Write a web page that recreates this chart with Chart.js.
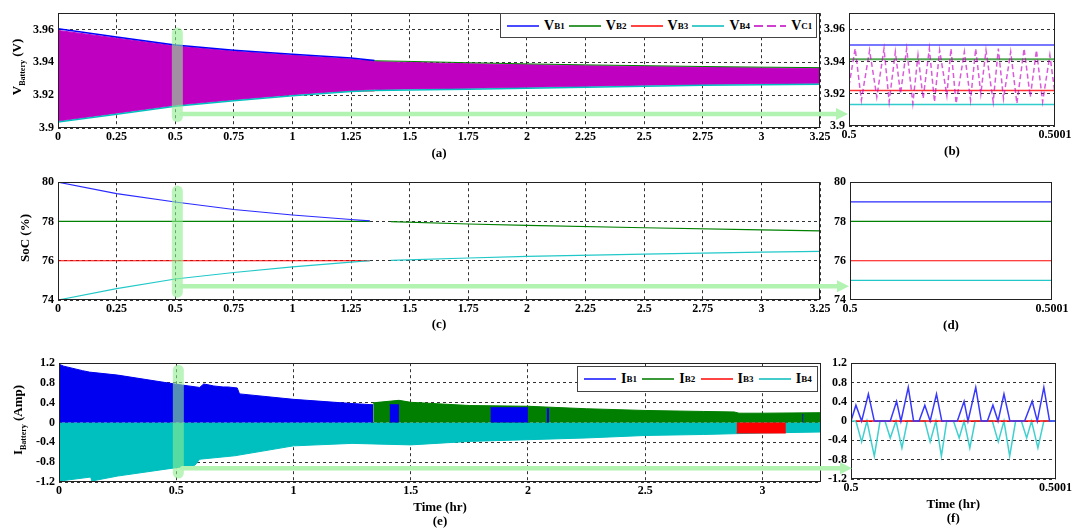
<!DOCTYPE html>
<html lang="en">
<head>
<meta charset="UTF-8">
<title>Battery voltage, SoC and current</title>
<style>
    body {
        margin: 0;
        width: 1076px;
        height: 531px;
        position: relative;
        overflow: hidden;
        background: #fff;
        font-family: "Liberation Serif", "Times New Roman", serif;
    }
    canvas { position: absolute; }
    .left { z-index: 2; }
    .right { z-index: 1; }
    .ytitle {
        position: absolute;
        z-index: 5;
        transform: translate(-50%, -50%) rotate(-90deg);
        white-space: nowrap;
        font-weight: bold;
        font-size: 13px;
    }
    .ytitle sub { font-size: 8px; }
    .legend {
        position: absolute;
        z-index: 5;
        box-sizing: border-box;
        background: #fff;
        border: 1px solid #444;
        display: flex;
        align-items: center;
        padding-left: 6px;
        font-weight: bold;
        font-size: 14px;
    }
    .legend .item { display: flex; align-items: center; }
    .legend .swatch { display: inline-block; width: 32px; height: 2px; margin-right: 5px; }
    .legend sub { font-size: 9px; }
</style>
</head>
<body>
<canvas id="chartB" class="right"></canvas>
<canvas id="chartD" class="right"></canvas>
<canvas id="chartF" class="right"></canvas>
<canvas id="chartA" class="left"></canvas>
<canvas id="chartC" class="left"></canvas>
<canvas id="chartE" class="left"></canvas>

<div class="ytitle" style="left:18px; top:67px;">V<sub>Battery</sub> (V)</div>
<div class="ytitle" style="left:25px; top:238px;">SoC (%)</div>
<div class="ytitle" style="left:19px; top:420px;">I<sub>Battery</sub> (Amp)</div>

<div class="legend" style="left:500px; top:13px; width:317px; height:25px;">
    <div class="item" style="width:62px;"><span class="swatch" style="background:#4a4aff;"></span>V<sub>B1</sub></div>
    <div class="item" style="width:62px;"><span class="swatch" style="background:#3a9a3a;"></span>V<sub>B2</sub></div>
    <div class="item" style="width:62px;"><span class="swatch" style="background:#ff4444;"></span>V<sub>B3</sub></div>
    <div class="item" style="width:62px;"><span class="swatch" style="background:#44cccc;"></span>V<sub>B4</sub></div>
    <div class="item" style="width:62px;"><span class="swatch" style="background:repeating-linear-gradient(90deg, #d040d0 0 9px, transparent 9px 13px);"></span>V<sub>C1</sub></div>
</div>
<div class="legend" style="left:577px; top:366px; width:241px; height:26px;">
    <div class="item" style="width:59px;"><span class="swatch" style="background:#4a4aff;"></span>I<sub>B1</sub></div>
    <div class="item" style="width:59px;"><span class="swatch" style="background:#3a9a3a;"></span>I<sub>B2</sub></div>
    <div class="item" style="width:59px;"><span class="swatch" style="background:#ff4444;"></span>I<sub>B3</sub></div>
    <div class="item" style="width:59px;"><span class="swatch" style="background:#44cccc;"></span>I<sub>B4</sub></div>
</div>

<script src="https://cdn.jsdelivr.net/npm/chart.js"></script>
<script>
    // ---- tick labels ----
    const hourTicks = [0, 0.25, 0.5, 0.75, 1, 1.25, 1.5, 1.75, 2, 2.25, 2.5, 2.75, 3, 3.25];
    const hourTicksE = [0, 0.5, 1, 1.5, 2, 2.5, 3];
    const zoomTicks = [0, 100];               // zoom windows, in 1e-6 hr from 0.5 hr
    const zoomLabels = ['0.5', '0.5001'];
    const voltTicks = [3.9, 3.92, 3.94, 3.96];
    const socTicks = [74, 76, 78, 80];
    const ampTicks = [-1.2, -0.8, -0.4, 0, 0.4, 0.8, 1.2];

    // ---- (a) battery voltage, whole run ----
    const bandTime = [0, 0.25, 0.5, 0.75, 1, 1.25, 1.35, 1.5, 1.75, 2, 2.25, 2.5, 2.75, 3, 3.25];
    const vc1Top = [3.9595, 3.9548, 3.9500, 3.9468, 3.9443, 3.9420, 3.9405, 3.9400, 3.9392, 3.9386, 3.9380, 3.9375, 3.9370, 3.9366, 3.9363];
    const vc1Bottom = [3.9042, 3.9090, 3.9138, 3.9172, 3.9203, 3.9228, 3.9234, 3.9238, 3.9242, 3.9248, 3.9254, 3.9261, 3.9266, 3.9270, 3.9273];
    const vb4Volt = [3.9036, 3.9084, 3.9132, 3.9166, 3.9197, 3.9222, 3.9228, 3.9232, 3.9236, 3.9242, 3.9248, 3.9255, 3.9260, 3.9264, 3.9267];
    const vb1Time = [0, 0.25, 0.5, 0.75, 1, 1.25, 1.35];
    const vb1Volt = [3.9605, 3.9555, 3.9506, 3.9474, 3.9449, 3.9427, 3.9411];
    const vb2EarlyTime = [0, 1.35];
    const vb2EarlyVolt = [3.9415, 3.9412];
    const vb2LateTime = [1.35, 1.5, 1.75, 2, 2.25, 2.5, 2.75, 3, 3.25];
    const vb2LateVolt = [3.9410, 3.9406, 3.9398, 3.9391, 3.9385, 3.9380, 3.9375, 3.9371, 3.9368];
    const vb3Time = [0, 1.35];
    const vb3Volt = [3.9220, 3.9226];

    // ---- (b) zoom of (a) ----
    const vbZoomTime = [0, 100];
    const vb1Zoom = [3.9502, 3.9502];
    const vb2Zoom = [3.9415, 3.9415];
    const vb3Zoom = [3.9221, 3.9221];
    const vb4Zoom = [3.9134, 3.9134];
    const vc1ZoomTime = [0, 3, 6, 10, 13.5, 17, 19.5, 22.5, 25, 28, 31, 33.5, 36, 39, 41.5, 44, 47.5, 49.5,
        52, 56, 59, 61.5, 64, 66.5, 70, 72.5, 75, 78.5, 81.5, 85, 88, 91, 94, 97.5, 100];
    const vc1ZoomVolt = [3.925, 3.948, 3.916, 3.947, 3.918, 3.948, 3.915, 3.946, 3.920, 3.948, 3.914, 3.944,
        3.917, 3.948, 3.915, 3.947, 3.919, 3.948, 3.914, 3.946, 3.916, 3.948, 3.920, 3.947, 3.915, 3.948,
        3.917, 3.946, 3.914, 3.948, 3.918, 3.947, 3.915, 3.944, 3.920];

    // ---- (c) state of charge ----
    const socEarlyTime = [0, 0.25, 0.5, 0.75, 1, 1.25, 1.33];
    const soc1Early = [80, 79.42, 78.99, 78.61, 78.33, 78.10, 78.03];
    const soc4Early = [74, 74.58, 75.07, 75.40, 75.69, 75.93, 76.00];
    const socFlatTime = [0, 1.33];
    const soc2Flat = [78, 78];
    const soc3Flat = [76, 76];
    const socLateTime = [1.42, 1.75, 2, 2.5, 3, 3.25];
    const socUpperLate = [77.99, 77.87, 77.80, 77.68, 77.57, 77.52];
    const socLowerLate = [76.02, 76.14, 76.22, 76.34, 76.44, 76.48];

    // ---- (d) zoom of (c) ----
    const socZoomTime = [0, 100];
    const soc1Zoom = [79, 79];
    const soc2Zoom = [78, 78];
    const soc3Zoom = [76, 76];
    const soc4Zoom = [75, 75];

    // ---- (e) battery current envelopes ----
    const ib1Time = [0, 0.02, 0.1, 0.13, 0.25, 0.5, 0.6, 0.617, 0.64, 0.66, 0.7, 0.72, 0.76, 0.77, 1, 1.25, 1.34];
    const ib1Amp = [1.18, 1.14, 1.05, 1.02, 0.96, 0.775, 0.71, 0.78, 0.76, 0.74, 0.72, 0.72, 0.70, 0.58, 0.47, 0.385, 0.36];
    const ib1SegTime = [1.41, 1.45, 1.451, 1.84, 2.0, 2.001, 2.08, 2.09, 2.091, 3.17, 3.175];
    const ib1SegAmp = [0.36, 0.36, null, 0.30, 0.30, null, 0.28, 0.28, null, 0.16, 0.16];
    const ib2Time = [1.34, 1.45, 1.5, 1.75, 2, 2.25, 2.5, 2.75, 2.88, 2.9, 3, 3.25];
    const ib2Amp = [0.40, 0.45, 0.41, 0.345, 0.33, 0.28, 0.245, 0.225, 0.215, 0.19, 0.19, 0.20];
    const ib3Time = [2.89, 3.1];
    const ib3Amp = [-0.21, -0.21];
    const ib4Time = [0, 0.02, 0.135, 0.14, 0.25, 0.5, 0.58, 0.6, 0.75, 1, 1.25, 1.5, 1.75, 2, 2.25, 2.5, 2.75, 3, 3.25];
    const ib4Amp = [-1.21, -1.17, -1.10, -1.18, -1.08, -0.91, -0.86, -0.74, -0.67, -0.47, -0.42, -0.45, -0.38, -0.345, -0.31, -0.26, -0.24, -0.21, -0.19];

    // ---- (f) zoom of (e) ----
    const ib1ZoomTime = [0, 2.4, 5.2, 8.5, 11.4, 19.2, 22.3, 24.4, 28.0, 30.6, 33.3, 36.1, 38.7, 41.8, 44.4,
        52.0, 55.3, 57.2, 61.0, 63.7, 66.7, 69.4, 71.9, 74.8, 77.7, 84.9, 88.6, 91.1, 94.3, 97.1, 100];
    const ib1ZoomAmp = [0, 0.33, 0, 0.56, 0, 0, 0.41, 0, 0.70, 0, 0, 0.33, 0, 0.56, 0,
        0, 0.41, 0, 0.70, 0, 0, 0.33, 0, 0.56, 0, 0, 0.41, 0, 0.70, 0, 0];
    const ib4ZoomTime = [0, 2.4, 5.2, 7.8, 11.4, 14.2, 16.6, 19.2, 22.0, 24.9, 27.6, 36.1, 38.7, 41.5, 44.2, 46.8,
        50.1, 52.9, 55.3, 58.1, 60.7, 69.1, 72.0, 74.8, 77.6, 80.5, 83.3, 85.9, 88.3, 91.4, 94.3, 100];
    const ib4ZoomAmp = [0, 0, -0.43, 0, -0.725, 0, 0, -0.35, 0, -0.556, 0, 0, -0.43, 0, -0.725, 0,
        0, -0.35, 0, -0.556, 0, 0, -0.43, 0, -0.725, 0, 0, -0.35, 0, -0.556, 0, 0];
    const ib3ZoomTime = [2.4, 97.1];
    const ib3ZoomAmp = [0, 0];

    // ---------------------------------------------------------------
    const FONT = {family: '"Liberation Serif", "Times New Roman", serif', weight: 'bold', size: 12};
    const TITLE_FONT = {family: FONT.family, weight: 'bold', size: 13, lineHeight: 1.1};

    function pts(xs, ys) {
        return xs.map((x, i) => ({x: x, y: ys[i]}));
    }

    function line(xs, ys, color, width, extra) {
        return Object.assign({data: pts(xs, ys), borderColor: color, backgroundColor: color,
            borderWidth: width, fill: false}, extra || {});
    }

    // frame around the plot area, plus the green zoom marker/arrow
    const panelDeco = {
        id: 'panelDeco',
        afterDraw(chart, args, opts) {
            const {ctx, chartArea: a, scales} = chart;
            ctx.save();
            ctx.strokeStyle = '#222';
            ctx.lineWidth = 1;
            ctx.strokeRect(Math.round(a.left) + 0.5, Math.round(a.top) + 0.5,
                Math.round(a.right - a.left) - 1, Math.round(a.bottom - a.top) - 1);
            const m = opts.marker;
            if (m) {
                const x = scales.x.getPixelForValue(m.x);
                const yTop = scales.y.getPixelForValue(m.top);
                const yBot = scales.y.getPixelForValue(m.bottom);
                const yLev = scales.y.getPixelForValue(m.level);
                const tip = a.right + m.reach;
                ctx.lineCap = 'round';
                ctx.strokeStyle = 'rgba(144, 238, 144, 0.6)';
                ctx.lineWidth = 11;
                ctx.beginPath();
                ctx.moveTo(x, yTop);
                ctx.lineTo(x, yBot);
                ctx.stroke();
                ctx.strokeStyle = '#b2f3b2';
                ctx.lineWidth = 4.5;
                ctx.beginPath();
                ctx.moveTo(x + 4, yLev);
                ctx.lineTo(tip - 10, yLev);
                ctx.stroke();
                ctx.fillStyle = '#b2f3b2';
                ctx.beginPath();
                ctx.moveTo(tip, yLev);
                ctx.lineTo(tip - 12, yLev - 6);
                ctx.lineTo(tip - 12, yLev + 6);
                ctx.closePath();
                ctx.fill();
            }
            ctx.restore();
        }
    };

    function buildChart(id, box, margin, xAxis, yAxis, datasets, marker) {
        const canvas = document.getElementById(id);
        const w = box.r - box.l + margin.l + margin.r;
        const h = box.b - box.t + margin.t + margin.b;
        canvas.width = w;
        canvas.height = h;
        canvas.style.left = (box.l - margin.l) + 'px';
        canvas.style.top = (box.t - margin.t) + 'px';
        canvas.style.width = w + 'px';
        canvas.style.height = h + 'px';

        return new Chart(canvas, {
            type: 'line',
            data: {datasets: datasets},
            options: {
                responsive: false,
                animation: false,
                devicePixelRatio: 1,
                layout: {padding: {top: margin.t, right: margin.r, left: 0, bottom: 0}},
                elements: {point: {radius: 0}, line: {tension: 0}},
                plugins: {legend: {display: false}, tooltip: {enabled: false}, panelDeco: {marker: marker}},
                scales: {
                    x: {
                        type: 'linear', min: xAxis.min, max: xAxis.max,
                        afterFit: s => { s.height = margin.b; },
                        afterBuildTicks: s => { s.ticks = xAxis.ticks.map(v => ({value: v})); },
                        ticks: {
                            font: FONT, color: '#000', padding: 2, maxRotation: 0, autoSkip: false,
                            callback: (v, i) => xAxis.labels ? xAxis.labels[i] : String(v)
                        },
                        grid: {display: xAxis.grid, color: '#333', drawTicks: false},
                        border: {display: false, dash: [3, 3]},
                        title: {display: true, text: xAxis.title, font: TITLE_FONT, color: '#000', padding: 0}
                    },
                    y: {
                        type: 'linear', min: yAxis.min, max: yAxis.max,
                        afterFit: s => { s.width = margin.l; },
                        afterBuildTicks: s => { s.ticks = yAxis.ticks.map(v => ({value: v})); },
                        ticks: {font: FONT, color: '#000', padding: 4, autoSkip: false, callback: v => String(v)},
                        grid: {display: yAxis.grid, color: '#333', drawTicks: false},
                        border: {display: false, dash: [3, 3]}
                    }
                }
            },
            plugins: [panelDeco]
        });
    }

    const BLUE = '#0000ff', GREEN = '#008000', RED = '#ff0000', CYAN = '#00c0c0', MAGENTA = '#c000c0';

    // (a)
    buildChart('chartA', {l: 58, t: 7, r: 820, b: 128}, {l: 58, t: 5, r: 30, b: 33},
        {min: 0, max: 3.25, ticks: hourTicks, grid: true, title: '(a)'},
        {min: 3.9, max: 3.97, ticks: voltTicks, grid: true},
        [
            line(vb1Time, vb1Volt, BLUE, 1.5, {order: 0}),
            line(bandTime, vb4Volt, CYAN, 1.5, {order: 1}),
            line(vb2LateTime, vb2LateVolt, GREEN, 1, {order: 2}),
            line(bandTime, vc1Top, MAGENTA, 1, {order: 5, fill: '+1'}),
            line(bandTime, vc1Bottom, MAGENTA, 1, {order: 6}),
            line(vb2EarlyTime, vb2EarlyVolt, GREEN, 1, {order: 8}),
            line(vb3Time, vb3Volt, RED, 1, {order: 9})
        ],
        {x: 0.509, top: 3.958, bottom: 3.907, level: 3.9085, reach: 28});

    // (b)
    buildChart('chartB', {l: 849, t: 5, r: 1055, b: 126}, {l: 30, t: 3, r: 20, b: 33},
        {min: 0, max: 100, ticks: zoomTicks, labels: zoomLabels, grid: false, title: '(b)'},
        {min: 3.9, max: 3.97, ticks: voltTicks, grid: true},
        [
            line(vc1ZoomTime, vc1ZoomVolt, 'rgba(200, 0, 200, 0.65)', 1.5, {borderDash: [5, 3]}),
            line(vbZoomTime, vb1Zoom, '#7777ff', 2),
            line(vbZoomTime, vb2Zoom, '#55aa55', 2),
            line(vbZoomTime, vb3Zoom, '#ff3333', 1.5),
            line(vbZoomTime, vb4Zoom, '#33cccc', 1.5)
        ]);

    // (c)
    buildChart('chartC', {l: 58, t: 179, r: 820, b: 300}, {l: 58, t: 8, r: 30, b: 32},
        {min: 0, max: 3.25, ticks: hourTicks, grid: true, title: '(c)'},
        {min: 74, max: 80, ticks: socTicks, grid: true},
        [
            line(socEarlyTime, soc1Early, '#2a2aff', 1.2),
            line(socEarlyTime, soc4Early, '#22c8c8', 1.2),
            line(socLateTime, socUpperLate, GREEN, 1.2),
            line(socLateTime, socLowerLate, '#22c8c8', 1.2),
            line(socFlatTime, soc2Flat, GREEN, 1.2),
            line(socFlatTime, soc3Flat, RED, 1.2)
        ],
        {x: 0.509, top: 79.55, bottom: 74.4, level: 74.7, reach: 29});

    // (d)
    buildChart('chartD', {l: 850, t: 179, r: 1052, b: 300}, {l: 30, t: 8, r: 22, b: 33},
        {min: 0, max: 100, ticks: zoomTicks, labels: zoomLabels, grid: false, title: '(d)'},
        {min: 74, max: 80, ticks: socTicks, grid: false},
        [
            line(socZoomTime, soc1Zoom, '#2a2aff', 1.2),
            line(socZoomTime, soc2Zoom, GREEN, 1.2),
            line(socZoomTime, soc3Zoom, RED, 1.2),
            line(socZoomTime, soc4Zoom, '#22c8c8', 1.2)
        ]);

    // (e)
    buildChart('chartE', {l: 59, t: 360, r: 821, b: 482}, {l: 59, t: 8, r: 32, b: 47},
        {min: 0, max: 3.25, ticks: hourTicksE, grid: true, title: ['Time (hr)', '(e)']},
        {min: -1.2, max: 1.2, ticks: ampTicks, grid: true},
        [
            line(ib3Time, ib3Amp, RED, 1, {fill: 'origin'}),
            line(ib1SegTime, ib1SegAmp, '#0000f0', 1, {fill: 'origin'}),
            line(ib1Time, ib1Amp, '#0000f0', 1, {fill: 'origin'}),
            line(ib2Time, ib2Amp, '#007f00', 1, {fill: 'origin'}),
            line(ib4Time, ib4Amp, '#00bfbf', 1, {fill: 'origin'})
        ],
        {x: 0.509, top: 1.06, bottom: -1.02, level: -0.92, reach: 31});

    // (f)
    buildChart('chartF', {l: 851, t: 358, r: 1056, b: 479}, {l: 30, t: 6, r: 18, b: 47},
        {min: 0, max: 100, ticks: zoomTicks, labels: zoomLabels, grid: false, title: ['Time (hr)', '(f)']},
        {min: -1.2, max: 1.2, ticks: ampTicks, grid: true},
        [
            line(ib1ZoomTime, ib1ZoomAmp, '#3838ff', 1.5),
            line(ib3ZoomTime, ib3ZoomAmp, RED, 1.5),
            line(ib4ZoomTime, ib4ZoomAmp, '#40d0d0', 1.5)
        ]);
</script>
</body>
</html>
